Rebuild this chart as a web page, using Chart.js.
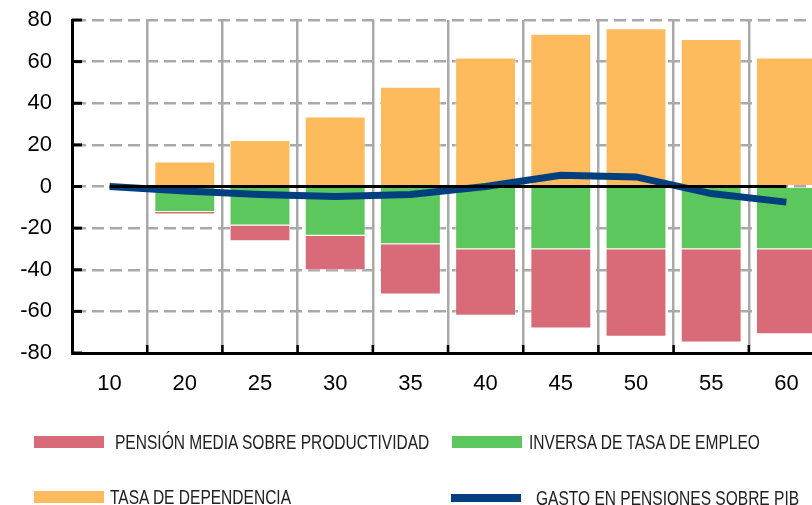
<!DOCTYPE html>
<html lang="es">
<head>
<meta charset="utf-8">
<title>Gasto en pensiones</title>
<script src="https://cdn.jsdelivr.net/npm/chart.js@4/dist/chart.umd.min.js"></script>
<style>
    html, body {
        margin: 0;
        padding: 0;
        background: #fff;
        overflow: hidden;
        width: 812px;
        height: 505px;
    }
    #wrap {
        position: absolute;
        left: 0;
        top: 0;
        width: 826px;
        height: 405px;
    }
    #legend {
        position: absolute;
        left: 0;
        top: 0;
        width: 812px;
        height: 505px;
        pointer-events: none;
    }
    .item {
        position: absolute;
        display: flex;
        align-items: center;
        height: 24px;
    }
    .swatch {
        width: 70px;
        flex: none;
    }
    .label {
        font-family: "Liberation Sans", Arial, sans-serif;
        font-size: 21px;
        color: #222;
        white-space: nowrap;
        transform-origin: left center;
        transform: scaleX(0.74);
    }
</style>
</head>
<body>
<div id="wrap"><canvas id="chart"></canvas></div>
<div id="legend"></div>
<script>
const categories = ['10', '20', '25', '30', '35', '40', '45', '50', '55', '60'];
const tasaDependencia = [null, 12, 22.4, 33.6, 47.9, 62, 73.4, 76, 70.9, 62];
const inversaEmpleo = [null, -12.2, -18.7, -23.7, -27.7, -30.2, -30.2, -30.2, -30.2, -30.2];
const pensionMedia = [null, -1.2, -7.6, -16.5, -24.2, -31.9, -38, -42, -44.7, -40.8];
const gastoPib = [0, -2.2, -3.8, -4.8, -3.8, 0, 5.4, 4.6, -3.4, -7.5];
const yTicks = [-80, -60, -40, -20, 0, 20, 40, 60, 80];

const colores = {
    pension: '#d96b79',
    empleo: '#5cc75c',
    dependencia: '#fdbb5e',
    gasto: '#013f7e'
};

const fuenteEjes = "'Liberation Sans', Arial, sans-serif";

// ejes con marcas hacia dentro y linea del cero
const marcasPlugin = {
    id: 'marcas',
    afterDatasetsDraw(chart) {
        const ctx = chart.ctx;
        const x = chart.scales.x;
        const y = chart.scales.y;
        const area = chart.chartArea;

        ctx.save();
        ctx.strokeStyle = '#000';
        ctx.lineWidth = 3;
        ctx.beginPath();
        ctx.moveTo(x.getPixelForValue(0), y.getPixelForValue(0));
        ctx.lineTo(x.getPixelForValue(categories.length - 1), y.getPixelForValue(0));
        ctx.stroke();

        yTicks.forEach(v => {
            const py = y.getPixelForValue(v);
            ctx.beginPath();
            ctx.moveTo(area.left, py);
            ctx.lineTo(area.left + 10, py);
            ctx.stroke();
        });

        ctx.lineWidth = 2.5;
        for (let i = 1; i < categories.length; i++) {
            const px = (x.getPixelForValue(i - 1) + x.getPixelForValue(i)) / 2;
            ctx.beginPath();
            ctx.moveTo(px, area.bottom);
            ctx.lineTo(px, area.bottom - 8);
            ctx.stroke();
        }
        ctx.restore();
    }
};

const ctx = document.getElementById('chart').getContext('2d');
const chart = new Chart(ctx, {
    type: 'bar',
    data: {
        labels: categories,
        datasets: [
            {
                type: 'line',
                label: 'GASTO EN PENSIONES SOBRE PIB',
                data: gastoPib,
                borderColor: colores.gasto,
                backgroundColor: colores.gasto,
                borderWidth: 7,
                pointRadius: 0,
                tension: 0,
                order: 1
            },
            {
                label: 'INVERSA DE TASA DE EMPLEO',
                data: inversaEmpleo,
                backgroundColor: colores.empleo,
                borderColor: 'rgba(255,255,255,0.45)',
                borderWidth: 1,
                order: 2
            },
            {
                label: 'PENSIÓN MEDIA SOBRE PRODUCTIVIDAD',
                data: pensionMedia,
                backgroundColor: colores.pension,
                borderColor: 'rgba(255,255,255,0.45)',
                borderWidth: 1,
                order: 2
            },
            {
                label: 'TASA DE DEPENDENCIA',
                data: tasaDependencia,
                backgroundColor: colores.dependencia,
                borderColor: 'rgba(255,255,255,0.45)',
                borderWidth: 1,
                order: 2
            }
        ]
    },
    options: {
        responsive: true,
        maintainAspectRatio: false,
        animation: false,
        categoryPercentage: 0.81,
        barPercentage: 1,
        layout: {
            padding: { top: 20, right: 2, left: 0, bottom: 0 }
        },
        plugins: {
            legend: { display: false },
            tooltip: { enabled: false }
        },
        scales: {
            x: {
                stacked: true,
                grid: {
                    color: '#a9a9a9',
                    lineWidth: 2.5,
                    drawTicks: false,
                    offset: true
                },
                border: {
                    color: '#000',
                    width: 3
                },
                ticks: {
                    color: '#000',
                    padding: 18,
                    font: { family: fuenteEjes, size: 22 }
                },
                afterFit(scale) {
                    scale.height = 52;
                }
            },
            y: {
                stacked: true,
                min: -80,
                max: 80,
                grid: {
                    color: '#a9a9a9',
                    lineWidth: 2.5,
                    drawTicks: false
                },
                border: {
                    color: '#000',
                    width: 3,
                    dash: [12, 6]
                },
                ticks: {
                    stepSize: 20,
                    color: '#000',
                    padding: 20,
                    font: { family: fuenteEjes, size: 22 }
                },
                afterFit(scale) {
                    scale.width = 72;
                    scale.paddingTop = 0;
                    scale.paddingBottom = 0;
                }
            }
        }
    },
    plugins: [marcasPlugin]
});

// leyenda en dos columnas, construida a partir de los datasets
const legendOrder = [
    { label: 'PENSIÓN MEDIA SOBRE PRODUCTIVIDAD', left: 34, top: 430, h: 12, gap: 11 },
    { label: 'INVERSA DE TASA DE EMPLEO', left: 452, top: 430, h: 12, gap: 7 },
    { label: 'TASA DE DEPENDENCIA', left: 34, top: 485, h: 12, gap: 6 },
    { label: 'GASTO EN PENSIONES SOBRE PIB', left: 451, top: 486, h: 8, gap: 15 }
];
const legendEl = document.getElementById('legend');
legendOrder.forEach(entry => {
    const ds = chart.data.datasets.find(d => d.label === entry.label);
    const item = document.createElement('div');
    item.className = 'item';
    item.style.left = entry.left + 'px';
    item.style.top = entry.top + 'px';
    const swatch = document.createElement('span');
    swatch.className = 'swatch';
    swatch.style.height = entry.h + 'px';
    swatch.style.background = ds.backgroundColor;
    swatch.style.marginRight = entry.gap + 'px';
    const text = document.createElement('span');
    text.className = 'label';
    text.textContent = ds.label;
    item.appendChild(swatch);
    item.appendChild(text);
    legendEl.appendChild(item);
});
</script>
</body>
</html>
